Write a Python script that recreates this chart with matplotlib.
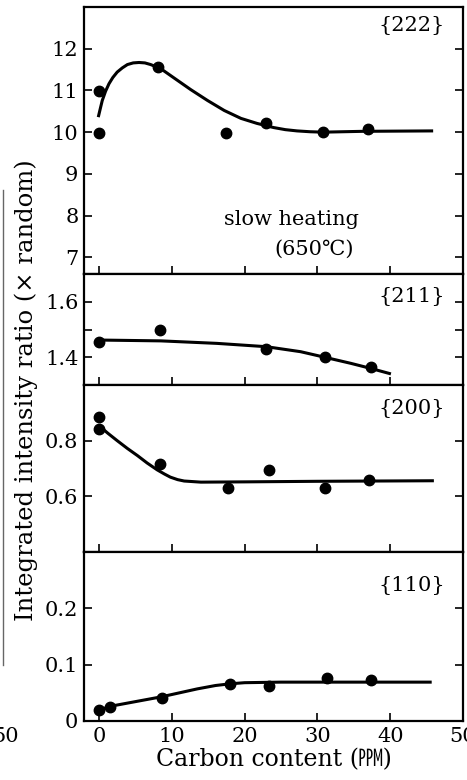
import numpy as np
import matplotlib
matplotlib.use("Agg")
import matplotlib.pyplot as plt
from matplotlib.lines import Line2D

plt.rcParams['font.family'] = ['DejaVu Serif', 'Noto Sans CJK JP']
plt.rcParams['mathtext.fontset'] = 'dejavuserif'

# measured points, carbon content (ppm)
x_222 = [0, 0, 8.1, 17.4, 23.0, 30.8, 37.0]
y_222 = [10.98, 9.98, 11.57, 9.97, 10.22, 10.0, 10.07]
x_211 = [0, 8.4, 23.0, 31.0, 37.3]
y_211 = [1.456, 1.498, 1.43, 1.402, 1.366]
x_200 = [0, 0, 8.4, 17.7, 23.3, 31.0, 37.1]
y_200 = [0.886, 0.842, 0.717, 0.631, 0.695, 0.631, 0.657]
x_110 = [0, 1.5, 8.6, 18.0, 23.4, 31.3, 37.3]
y_110 = [0.019, 0.025, 0.040, 0.066, 0.063, 0.076, 0.073]

# hand drawn trend lines
cx_222 = [-0.1, 0.2, 0.45, 0.9, 1.37, 1.9, 2.5, 3.2, 3.9, 4.7, 5.5, 6.3, 7.1,
          8.5, 10.3, 12.6, 14.9, 17.2, 19.5, 21.7, 24.0, 25.6, 27.2, 29.0,
          30.8, 33.5, 36.3, 45.9]
cy_222 = [10.36, 10.58, 10.76, 10.98, 11.16, 11.31, 11.44, 11.54, 11.62, 11.66,
          11.67, 11.66, 11.62, 11.52, 11.30, 11.02, 10.76, 10.52, 10.33, 10.21,
          10.11, 10.06, 10.03, 10.01, 10.0, 10.01, 10.02, 10.03]
cx_211 = [0, 8.5, 16.2, 23.0, 27.7, 31.0, 34.6, 37.3, 40.1]
cy_211 = [1.462, 1.459, 1.45, 1.438, 1.42, 1.40, 1.378, 1.36, 1.34]
cx_200 = [0, 1.2, 2.5, 3.9, 5.3, 6.6, 8.0, 9.0, 9.8, 10.8, 11.7, 14.0, 20.0,
          30.0, 46.0]
cy_200 = [0.854, 0.827, 0.80, 0.772, 0.746, 0.720, 0.695, 0.680, 0.669, 0.660,
          0.655, 0.651, 0.652, 0.654, 0.656]
cx_110 = [0, 1.5, 8.6, 13.5, 16.0, 18.0, 20.0, 25.0, 35.0, 45.7]
cy_110 = [0.019, 0.026, 0.043, 0.057, 0.063, 0.066, 0.068, 0.069, 0.069, 0.069]

panels = [
    (x_222, y_222, cx_222, cy_222, "{222}", (6.6, 13.0), [7, 8, 9, 10, 11, 12], [7, 8, 9, 10, 11, 12], ["7", "8", "9", "10", "11", "12"]),
    (x_211, y_211, cx_211, cy_211, "{211}", (1.3, 1.7), [1.4, 1.5, 1.6], [1.4, 1.6], ["1.4", "1.6"]),
    (x_200, y_200, cx_200, cy_200, "{200}", (0.4, 1.0), [0.6, 0.8], [0.6, 0.8], ["0.6", "0.8"]),
    (x_110, y_110, cx_110, cy_110, "{110}", (0.0, 0.3), [0, 0.1, 0.2], [0, 0.1, 0.2], ["0", "0.1", "0.2"]),
]
label_y = [0.93, 0.80, 0.86, 0.80]

fig = plt.figure(figsize=(4.67, 7.8), dpi=100)
gs = fig.add_gridspec(4, 1, height_ratios=[267, 111, 167, 169], hspace=0,
                      left=84/467, right=463/467, top=1-7/780, bottom=1-721/780)

for i, (px, py, cx, cy, name, ylim, allticks, lticks, llabels) in enumerate(panels):
    ax = fig.add_subplot(gs[i])
    ax.plot(cx, cy, color='black', lw=2.2, solid_capstyle='butt',
            solid_joinstyle='round')
    ax.plot(px, py, 'o', color='black', ms=7.5)
    ax.set_xlim(-2.06, 50)
    ax.set_ylim(*ylim)
    ax.set_xticks([0, 10, 20, 30, 40, 50] if i == 3 else [0, 10, 20, 30, 40])
    ax.set_yticks(allticks)
    ax.set_yticklabels([llabels[lticks.index(t)] if t in lticks else "" for t in allticks])
    ax.tick_params(direction='in', length=6, width=1.2, labelsize=15, right=True,
                   top=False, pad=4)
    if i < 3:
        ax.tick_params(labelbottom=False)
    for s in ax.spines.values():
        s.set_linewidth(1.6)
    ax.text(0.865, label_y[i], name, transform=ax.transAxes, ha='center',
            va='center', fontsize=15)
    if i == 0:
        ax.text(26.4, 7.9, "slow heating", ha='center', va='center', fontsize=15)
        ax.text(29.5, 7.2, "(650\u2103)", ha='center', va='center', fontsize=15)
    if i == 3:
        ax.set_xlabel("Carbon content (\u33d9)", fontsize=17, labelpad=2)

fig.text(0.056, 0.50, "Integrated intensity ratio (\u00d7 random)", rotation=90,
         ha='center', va='center', fontsize=17.5)

# edge of the neighbouring figure on the scanned page
fig.add_artist(Line2D([3/467, 3/467], [1-190/780, 1-665/780], color='0.4', lw=1.0))
fig.text(-8/467, 1-737/780, "50", ha='left', va='center', fontsize=15)

fig.savefig("out.png", dpi=100)
